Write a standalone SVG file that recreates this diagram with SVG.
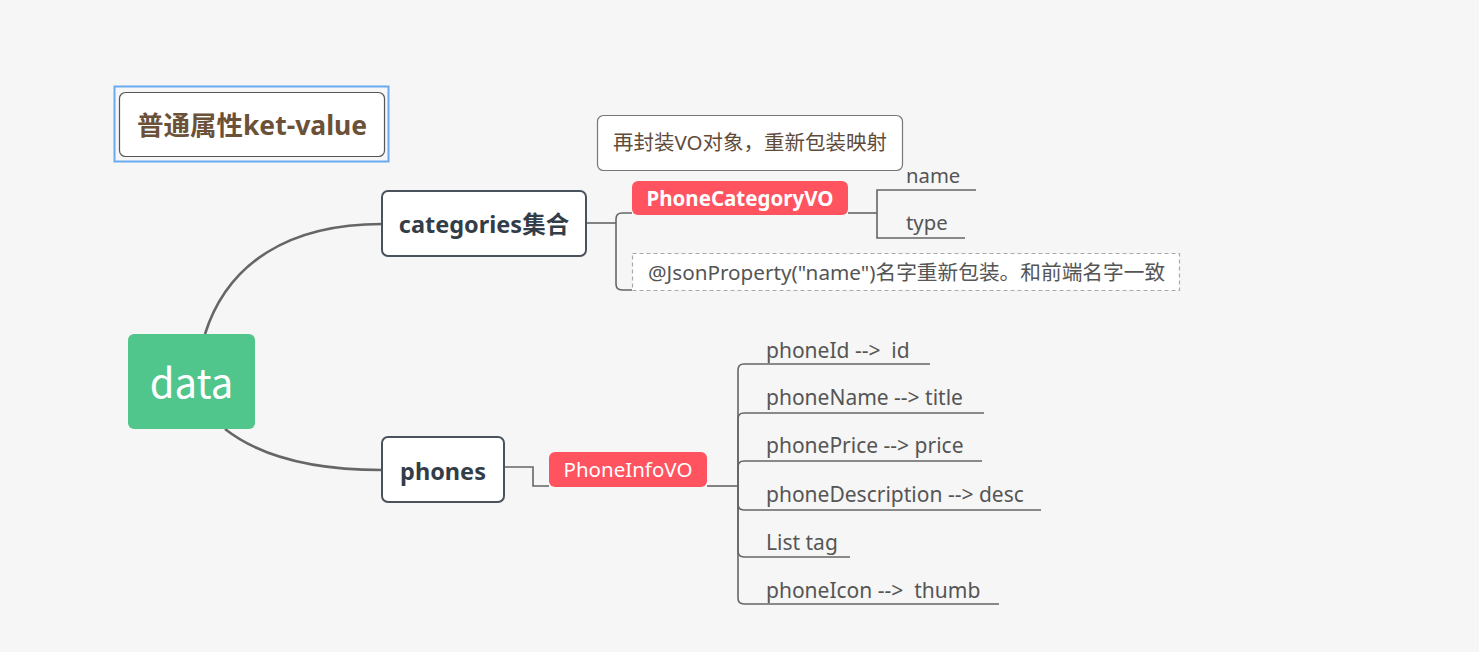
<svg xmlns="http://www.w3.org/2000/svg" width="1479" height="652" viewBox="0 0 1479 652">
<style>
.bg{fill:#f6f6f6}
.t{font-family:"Noto Sans","Noto Sans CJK SC",sans-serif}
.c{font-family:"Noto Sans CJK SC","Noto Sans",sans-serif}
.item{font-size:21px;fill:#555555;white-space:pre}
.main{fill:#ffffff;stroke:#4a525c;stroke-width:2}
.mainT{font-size:23.5px;font-weight:bold;fill:#333d47}
.red{fill:#ff535f}
.ln{fill:none;stroke:#666666;stroke-width:1.6}
.curve{fill:none;stroke:#666666;stroke-width:2.6}
</style>
<rect class="bg" x="0" y="0" width="1479" height="652"/>
<g id="connectors">
<path class="curve" d="M205,334 C228,262 290,224 382,224"/>
<path class="curve" d="M225,429 C262,458 315,470 382,470"/>
<path class="ln" d="M586,223 H616"/>
<path class="ln" d="M616,223 V219 Q616,213 622,213 H632"/>
<path class="ln" d="M616,223 V284 Q616,290 622,290 H632"/>
<path class="ln" d="M848,213 H877"/>
<path class="ln" d="M877,213 V190 H976"/>
<path class="ln" d="M877,213 V238 H965"/>
<path class="ln" d="M504,467 H533 V486 H549"/>
<path class="ln" d="M707,486 H738"/>
<path class="ln" d="M738,486 V370 Q738,364 744,364 H930"/>
<path class="ln" d="M738,486 V419 Q738,413 744,413 H984"/>
<path class="ln" d="M738,486 V467 Q738,461 744,461 H982"/>
<path class="ln" d="M738,486 V504 Q738,510 744,510 H1041"/>
<path class="ln" d="M738,486 V551 Q738,557 744,557 H850"/>
<path class="ln" d="M738,486 V598 Q738,604 744,604 H999"/>
</g>
<g id="title">
<rect x="114.5" y="86.5" width="274" height="75" fill="none" stroke="#6aaaf0" stroke-width="2"/>
<rect x="119.5" y="92.5" width="265" height="64" rx="6" fill="#ffffff" stroke="#555555" stroke-width="1.2"/>
<text class="t" x="252" y="135" font-size="26.5" font-weight="bold" fill="#6b5137" text-anchor="middle">普通属性ket-value</text>
</g>
<g id="data">
<rect x="128" y="334" width="127" height="95" rx="6" fill="#50c58c"/>
<text class="c" x="191.5" y="398" font-size="40" fill="#ffffff" text-anchor="middle">data</text>
</g>
<g id="categories">
<rect class="main" x="382" y="191" width="204" height="65" rx="6"/>
<text class="t mainT" x="484" y="233" text-anchor="middle">categories集合</text>
</g>
<g id="note">
<rect x="597.5" y="115.5" width="305" height="55" rx="6" fill="#ffffff" stroke="#777777" stroke-width="1.2"/>
<text class="t" x="750" y="150" font-size="20.5" fill="#5f4b3a" text-anchor="middle">再封装VO对象，重新包装映射</text>
</g>
<g id="phoneCategoryVO">
<rect class="red" x="632" y="181" width="216" height="34" rx="6"/>
<text class="t" x="740" y="206" font-size="20.5" font-weight="bold" fill="#ffffff" text-anchor="middle">PhoneCategoryVO</text>
</g>
<g id="name"><text class="t item" x="906" y="183" style="font-size:20.3px">name</text></g>
<g id="type"><text class="t item" x="906" y="230" style="font-size:20.3px">type</text></g>
<g id="jsonProperty">
<rect x="632.5" y="253.5" width="547" height="37" fill="#ffffff" stroke="#aaaaaa" stroke-width="1.2" stroke-dasharray="4,3"/>
<text class="t item" x="648" y="280" style="font-size:20.7px">@JsonProperty("name")名字重新包装。和前端名字一致</text>
</g>
<g id="phones">
<rect class="main" x="382" y="437" width="122" height="65" rx="6"/>
<text class="t mainT" x="443" y="480" text-anchor="middle">phones</text>
</g>
<g id="phoneInfoVO">
<rect class="red" x="549" y="452" width="158" height="35" rx="6"/>
<text class="t" x="628" y="477" font-size="20.5" fill="#ffffff" text-anchor="middle">PhoneInfoVO</text>
</g>
<g id="phoneId"><text class="t item" x="766" y="358">phoneId -->  id</text></g>
<g id="phoneName"><text class="t item" x="766" y="405">phoneName --> title</text></g>
<g id="phonePrice"><text class="t item" x="766" y="453">phonePrice --> price</text></g>
<g id="phoneDescription"><text class="t item" x="766" y="502">phoneDescription --> desc</text></g>
<g id="listTag"><text class="t item" x="766" y="550">List tag</text></g>
<g id="phoneIcon"><text class="t item" x="766" y="598">phoneIcon -->  thumb</text></g>
</svg>
